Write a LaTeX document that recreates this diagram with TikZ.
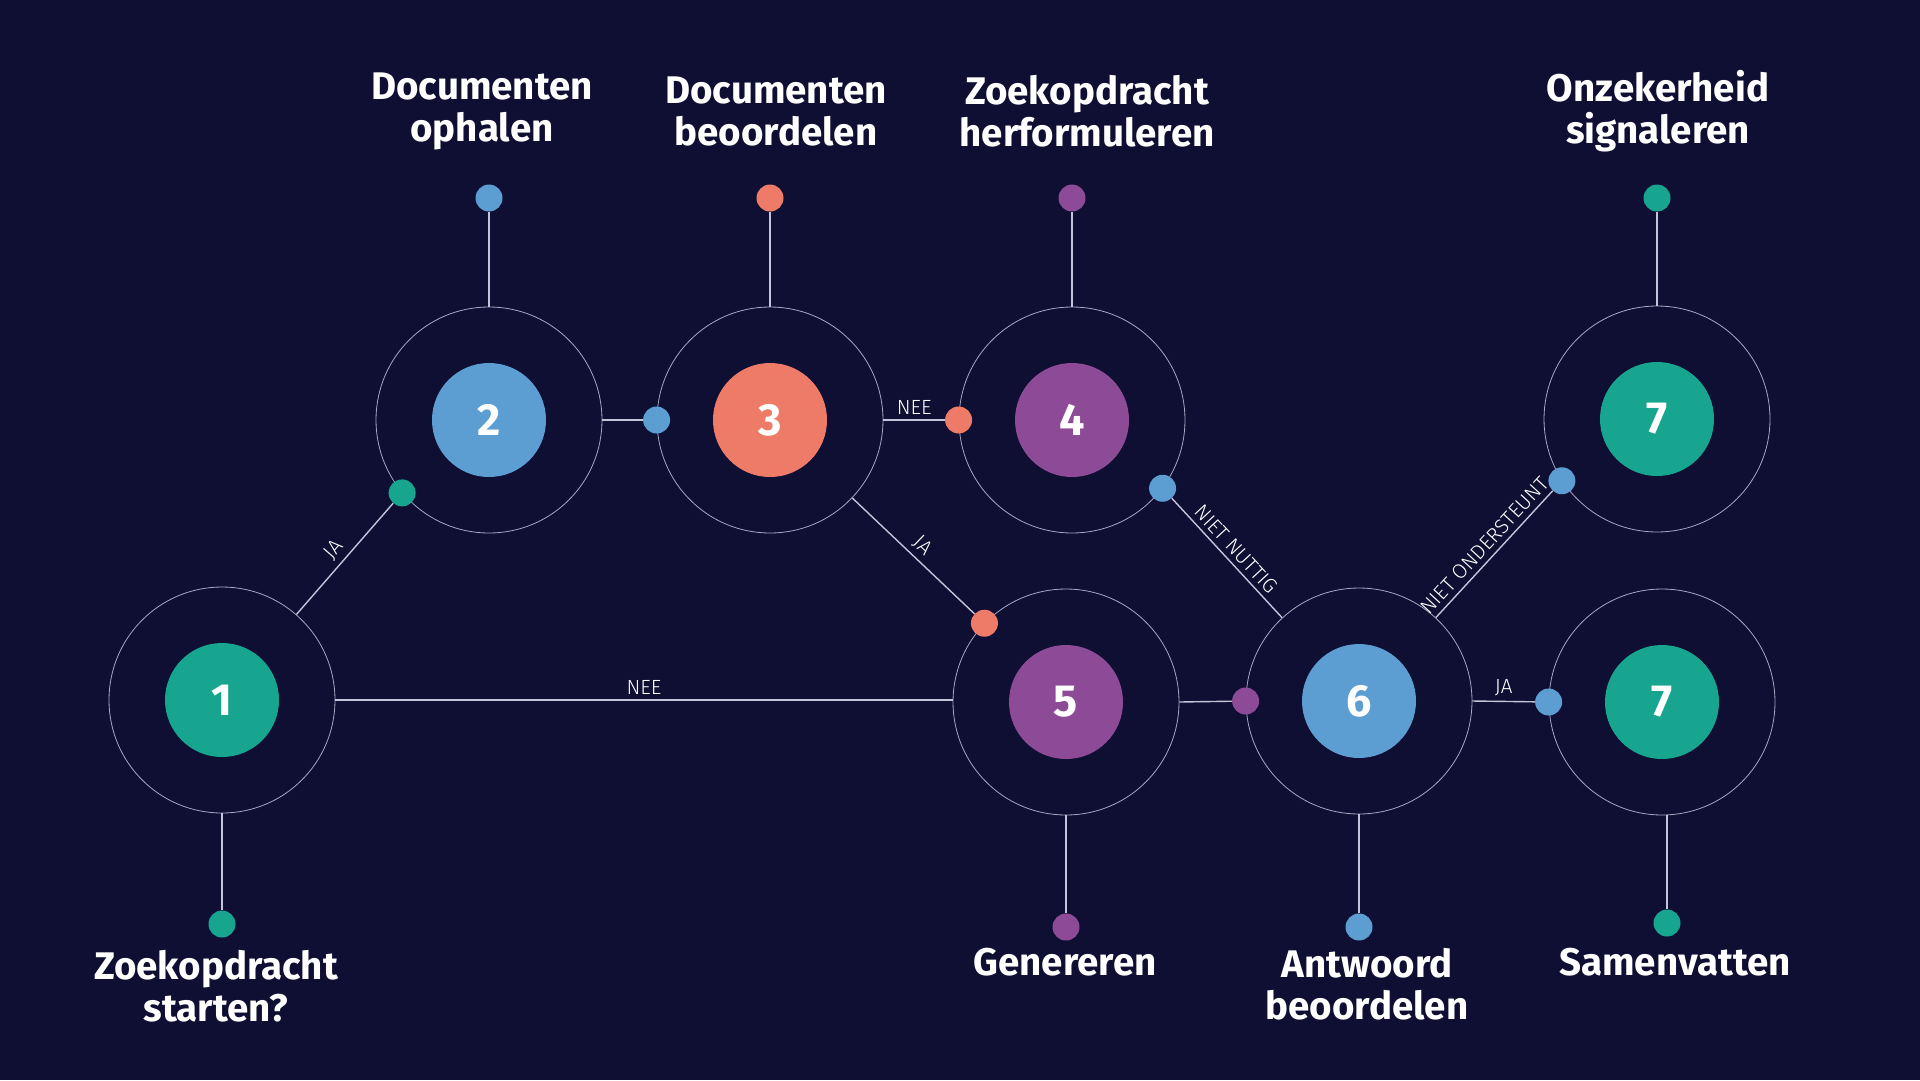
\documentclass[tikz,border=0pt]{standalone}
\usepackage{fontspec}
\setmainfont{Fira Sans}
\newfontfamily\lightfont{Fira Sans Light}
\definecolor{bg}{HTML}{0F0E33}
\definecolor{teal}{HTML}{17A58F}
\definecolor{blue}{HTML}{5C9DD2}
\definecolor{coral}{HTML}{EE7B67}
\definecolor{purple}{HTML}{8D4A97}
\definecolor{ringc}{HTML}{A8A8C4}
\definecolor{linec}{HTML}{C4C4DA}
\begin{document}
\begin{tikzpicture}[x=1pt,y=-1pt,
  ring/.style={circle, draw=ringc, line width=0.8pt, minimum size=226pt, inner sep=0pt},
  core/.style={circle, fill=#1, minimum size=114pt, inner sep=0pt, text=white,
    font=\bfseries\fontsize{45}{45}\selectfont},
  dotc/.style={circle, fill=#1, minimum size=27pt, inner sep=0pt},
  link/.style={draw=linec, line width=1.4pt},
  stem/.style={draw=linec, line width=1.2pt},
  lbl/.style={text=white, font=\lightfont\fontsize{20.5}{20.5}\selectfont, inner sep=2pt},
  ttl/.style={text=white, font=\bfseries\fontsize{38.5}{42}\selectfont, align=center}]
\fill[bg] (0,0) rectangle (1920,1080);
\useasboundingbox (0,0) rectangle (1920,1080);

% rings
\node[ring] (r1) at (222,700) {};
\node[ring] (r2) at (489,420) {};
\node[ring] (r3) at (770,420) {};
\node[ring] (r4) at (1072,420) {};
\node[ring] (r5) at (1066,702) {};
\node[ring] (r6) at (1359,701) {};
\node[ring] (r7t) at (1657,419) {};
\node[ring] (r7b) at (1662,702) {};

% cores
\node[core=teal] (c1) at (r1) {1};
\node[core=blue] (c2) at (r2) {2};
\node[core=coral] (c3) at (r3) {3};
\node[core=purple] (c4) at (r4) {4};
\node[core=purple] (c5) at (r5) {5};
\node[core=blue] (c6) at (r6) {6};
\node[core=teal] (c7t) at (r7t) {7};
\node[core=teal] (c7b) at (r7b) {7};

% stems and end dots
\node[dotc=blue] (t2) at (489,198) {};
\node[dotc=coral] (t3) at (770,198) {};
\node[dotc=purple] (t4) at (1072,198) {};
\node[dotc=teal] (t7) at (1657,198) {};
\node[dotc=teal] (b1) at (222,924) {};
\node[dotc=purple] (b5) at (1066,927) {};
\node[dotc=blue] (b6) at (1359,927) {};
\node[dotc=teal] (b7) at (1667,923) {};
\draw[stem] (t2) -- (r2.north);
\draw[stem] (t3) -- (r3.north);
\draw[stem] (t4) -- (r4.north);
\draw[stem] (t7) -- (r7t.north);
\draw[stem] (r1.south) -- (b1);
\draw[stem] (r5.south) -- (b5);
\draw[stem] (r6.south) -- (b6);
\draw[stem] (b7) -- (b7 |- r7b.south);

% titles
\node[ttl] (l2) at (482,111) {Documenten\\ophalen};
\node[ttl] (l3) at (776,111) {Documenten\\beoordelen};
\node[ttl] (l4) at (1087,111) {Zoekopdracht\\herformuleren};
\node[ttl] (l7t) at (1658,111) {Onzekerheid\\signaleren};
\node[ttl] (l1) at (216,986) {Zoekopdracht\\starten?};
\node[ttl] (l5) at (1065,962) {Genereren};
\node[ttl] (l6) at (1367,984) {Antwoord\\beoordelen};
\node[ttl] (l7b) at (1675,962) {Samenvatten};

% connector dots
\node[dotc=teal] (d12) at (r2.220) {};
\node[dotc=blue] (d23) at (r3.west) {};
\node[dotc=coral] (d34) at (r4.west) {};
\node[dotc=coral] (d35) at (r5.136) {};
\node[dotc=purple] (d56) at (r6.west) {};
\node[dotc=blue] (d64) at (r4.-37) {};
\node[dotc=blue] (d67t) at (r7t.213) {};
\node[dotc=blue] (d67b) at (r7b.west) {};

% connectors
\draw[link] (r1) -- node[lbl, sloped, above=3pt] {JA} (d12);
\draw[link] (r1.east) -- node[lbl, above=3pt] {NEE} (r5.west |- r1.east);
\draw[link] (r2.east) -- (d23);
\draw[link] (r3.east) -- node[lbl, above=3pt] {NEE} (d34);
\draw[link] (r3) -- node[lbl, sloped, above=3pt] {JA} (d35);
\draw[link] (r5.east) -- (d56);
\draw[link] (d64) -- node[lbl, sloped, above=3pt] {NIET NUTTIG} (r6);
\draw[link] (r6) -- node[lbl, sloped, above=3pt] {NIET ONDERSTEUNT} (d67t);
\draw[link] (r6.east) -- node[lbl, above=3pt] {JA} (d67b);
\end{tikzpicture}
\end{document}
